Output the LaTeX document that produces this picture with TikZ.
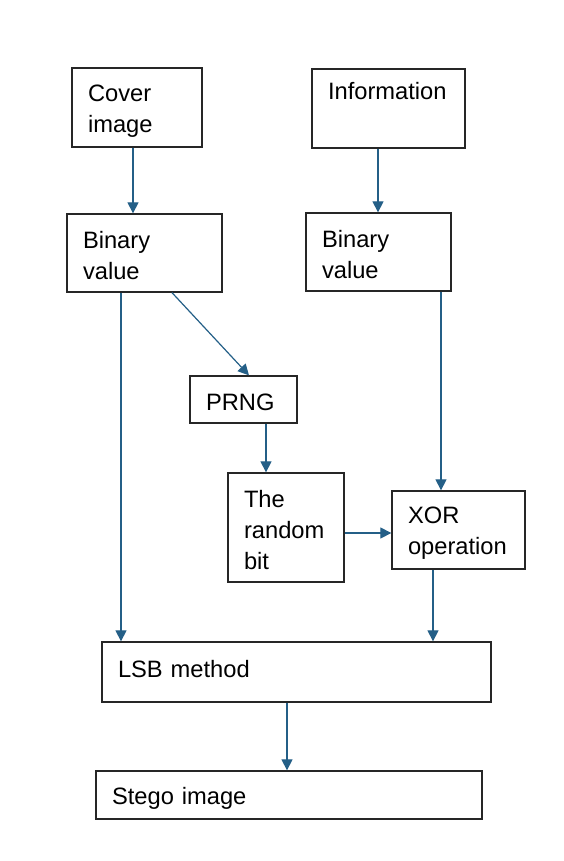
\documentclass[tikz,border=0pt]{standalone}
\usepackage{fontspec}
\setmainfont{Liberation Sans}
\usepackage{tikz}
\usetikzlibrary{arrows.meta}
\definecolor{arrowblue}{RGB}{36,95,135}
\tikzstyle{flowbox} = [draw=black!85, line width=1.3pt, rectangle, inner xsep=16pt, inner ysep=2pt, align=left,
    font=\fontsize{23.7}{31}\selectfont, execute at begin node={\rule{0pt}{23pt}}]
\tikzstyle{flowarrow} = [draw=arrowblue, line width=1.2pt, -{Triangle[length=11pt,width=11pt]}]

\begin{document}
\begin{tikzpicture}[x=1pt,y=-1pt]
\useasboundingbox (0,0) rectangle (564,861);
\node [flowbox, text width=98pt, minimum height=79pt] (cover) at (137,107.5) {Cover\\image};
\node [flowbox, text width=121pt, minimum height=79pt] (info) at (388.5,108.5) {Information\\\strut};
\node [flowbox, text width=123pt, minimum height=78pt] (binL) at (144.5,253) {Binary\\value};
\node [flowbox, text width=113pt, minimum height=78pt] (binR) at (378.5,252) {Binary\\value};
\node [flowbox, text width=75pt, minimum height=47pt] (prng) at (243.5,399.5) {PRNG};
\node [flowbox, text width=84pt, minimum height=109pt] (rand) at (286,527.5) {The\\random\\bit};
\node [flowbox, text width=101pt, minimum height=78pt] (xor) at (458.5,530) {XOR\\operation};
\node [flowbox, text width=357pt, minimum height=60pt] (lsb) at (296.5,672) {LSB method\rule[-12pt]{0pt}{12pt}};
\node [flowbox, text width=354pt, minimum height=48pt] (stego) at (289,795) {Stego image};
\draw [flowarrow] ([xshift=-4pt]cover.south) -- ([xshift=-4pt]cover.south |- binL.north);
\draw [flowarrow] ([xshift=-10.5pt]info.south) -- ([xshift=-10.5pt]info.south |- binR.north);
\draw [flowarrow] ([xshift=27.5pt]binL.south) -- ([xshift=5.5pt]prng.north);
\draw [flowarrow] ([xshift=-23.5pt]binL.south) -- ([xshift=-23.5pt]binL.south |- lsb.north);
\draw [flowarrow] ([xshift=62.5pt]binR.south) -- ([xshift=62.5pt]binR.south |- xor.north);
\draw [flowarrow] ([xshift=22.5pt]prng.south) -- ([xshift=22.5pt]prng.south |- rand.north);
\draw [flowarrow] ([yshift=-5.5pt]rand.east) -- ([yshift=-5.5pt]rand.east -| xor.west);
\draw [flowarrow] ([xshift=-25.5pt]xor.south) -- ([xshift=-25.5pt]xor.south |- lsb.north);
\draw [flowarrow] ([xshift=-9.5pt]lsb.south) -- ([xshift=-9.5pt]lsb.south |- stego.north);
\end{tikzpicture}
\end{document}
